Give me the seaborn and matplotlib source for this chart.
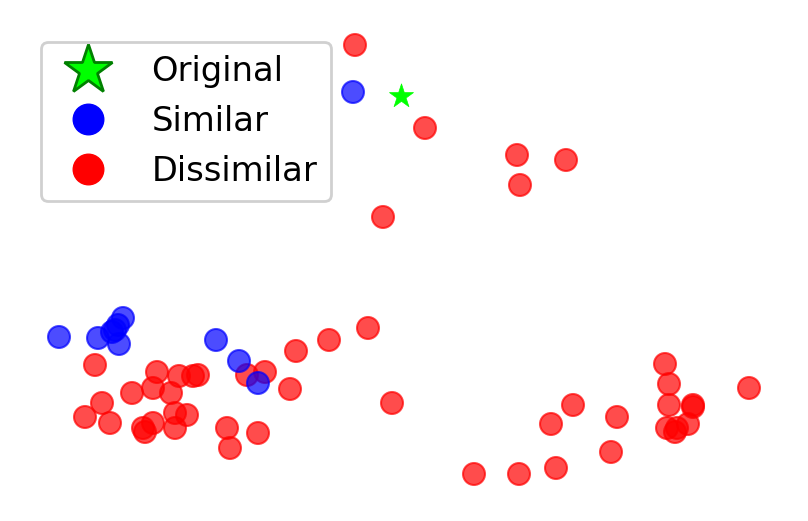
import matplotlib
matplotlib.use("Agg")
import matplotlib.pyplot as plt
from matplotlib.lines import Line2D
import seaborn as sns
import pandas as pd

# Embedding coordinates (y grows downward)
dis_x = [355, 425, 517, 566, 520, 383,
         95, 157, 179, 193, 198, 153, 132, 171, 102, 85, 110, 175, 187, 143, 153, 145, 175,
         227, 230, 258, 247, 265, 290, 296, 329, 368, 392,
         474, 519, 556, 611, 551, 573, 617, 665, 669, 669, 693, 693, 749, 667, 688, 675, 677]
dis_y = [45, 128, 155, 160, 185, 217,
         365, 372, 376, 376, 375, 388, 393, 393, 403, 417, 423, 413, 415, 428, 423, 432, 428,
         428, 448, 433, 375, 372, 389, 351, 340, 328, 403,
         474, 474, 468, 452, 424, 405, 417, 364, 384, 405, 407, 405, 388, 428, 424, 432, 428]
sim_x = [353, 59, 98, 123, 118, 112, 119, 115, 216, 239, 258]
sim_y = [92, 337, 338, 318, 325, 332, 344, 330, 340, 361, 383]
orig_x = [401]
orig_y = [96]

labels = ["Original", "Similar", "Dissimilar"]

df = pd.DataFrame({
    "x": dis_x + sim_x,
    "y": dis_y + sim_y,
    "group": ["Dissimilar"] * len(dis_x) + ["Similar"] * len(sim_x),
})

fig = plt.figure(figsize=(8.08, 5.21), dpi=100)
ax = fig.add_axes([0, 0, 1, 1])

sns.scatterplot(data=df, x="x", y="y", hue="group",
                palette={"Dissimilar": "red", "Similar": "blue"},
                s=250, alpha=0.7, edgecolor=None, linewidth=1.5,
                legend=False, ax=ax)
for coll in ax.collections:
    coll.set_edgecolor(coll.get_facecolor())
sns.scatterplot(x=orig_x, y=orig_y, marker="*", color="lime", s=330,
                edgecolor="lime", linewidth=0.5, legend=False, ax=ax, zorder=5)

ax.set_xlim(0, 808)
ax.set_ylim(521, 0)
ax.axis("off")

handles = [
    Line2D([], [], marker="*", linestyle="none", markersize=37,
           markerfacecolor="lime", markeredgecolor="green", markeredgewidth=2),
    Line2D([], [], marker="o", linestyle="none", markersize=22,
           markerfacecolor="blue", markeredgecolor="blue"),
    Line2D([], [], marker="o", linestyle="none", markersize=22,
           markerfacecolor="red", markeredgecolor="red"),
]
leg = ax.legend(handles, labels, loc="upper left",
                bbox_to_anchor=(41 / 808, 1 - 42 / 521), borderaxespad=0,
                fontsize=24.3, frameon=True, fancybox=True, framealpha=1,
                handletextpad=0.87, labelspacing=0.49, borderpad=0.4)
leg.get_frame().set_edgecolor("#d0d0d0")
leg.get_frame().set_linewidth(2)

fig.savefig("out.png", dpi=100)
